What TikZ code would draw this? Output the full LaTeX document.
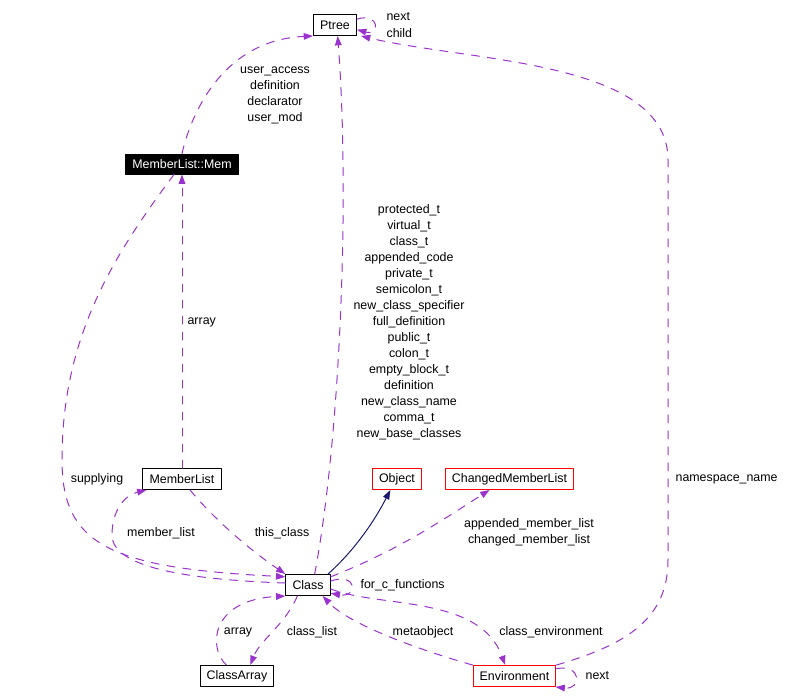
\documentclass[tikz,border=0pt]{standalone}
\usepackage{fontspec}
\setmainfont{Liberation Sans}
\usetikzlibrary{arrows.meta}
\definecolor{dorchid}{HTML}{9A32CD}
\definecolor{mnblue}{HTML}{191970}

\begin{document}
\begin{tikzpicture}[x=0.75pt,y=-0.75pt,line cap=round,line join=round,
  every node/.style={font=\fontsize{9.3}{12}\selectfont},
  cls/.style={draw,line width=0.75pt,inner xsep=5pt,inner ysep=0pt,minimum height=15.75pt},
  ext/.style={cls,draw=red},
  cur/.style={cls,fill=black,text=white,minimum height=15pt},
  lbl/.style={inner sep=1pt},
  rel/.style={draw=dorchid,line width=0.75pt,dash pattern=on 6pt off 6pt,-{Triangle[length=7pt,width=5pt]}},
  inh/.style={draw=mnblue,line width=0.75pt,-{Triangle[length=7pt,width=5pt]}}]
  \useasboundingbox (0,0) rectangle (800,700);
  % classes
  \node[cls] (ptree) at (335,25) {Ptree};
  \node[cur] (mem) at (182,164) {MemberList::Mem};
  \node[cls] (ml) at (182,479) {MemberList};
  \node[ext] (object) at (397,479) {Object};
  \node[ext] (cml) at (509.5,479) {ChangedMemberList};
  \node[cls] (class) at (308,585) {Class};
  \node[cls] (ca) at (237,676) {ClassArray};
  \node[ext] (env) at (514.5,676) {Environment};
  % Ptree
  \draw[rel] (ptree.15) .. controls (380,12) and (380,36) .. (ptree.-12);
  \node[lbl,anchor=west] (lnext) at (385,17) {next};
  \node[lbl,anchor=west] (lchild) at (385,33) {child};
  \draw[rel] (mem.north) .. controls (192,110) and (225,40) .. (ptree.south west);
  \node[lbl,align=center] (lmem) at (275,95) {user\_access\\definition\\declarator\\user\_mod};
  \draw[rel] ([xshift=5pt]class.north) .. controls (340,440) and (350,200) .. ([xshift=2pt]ptree.south);
  \node[lbl,align=center] (lcls) at (409,322) {protected\_t\\virtual\_t\\class\_t\\appended\_code\\private\_t\\semicolon\_t\\new\_class\_specifier\\full\_definition\\public\_t\\colon\_t\\empty\_block\_t\\definition\\new\_class\_name\\comma\_t\\new\_base\_classes};
  \draw[rel] (env.north east) .. controls (625,645) and (668,620) .. (668,560) -- (668,160) .. controls (668,60) and (470,62) .. ([xshift=3pt]ptree.south east);
  \node[lbl,anchor=west] (lns) at (674,479) {namespace\_name};
  % MemberList
  \draw[rel] (ml.north) -- (mem.south);
  \node[lbl,anchor=west] (larr) at (186,322) {array};
  \draw[rel] ([xshift=-6pt]mem.south) .. controls (110,260) and (62,340) .. (62,460) .. controls (62,545) and (110,568) .. (class.160);
  \node[lbl] (lsup) at (97,479) {supplying};
  \draw[rel] (class.175) .. controls (200,580) and (112,570) .. (112,535) .. controls (112,510) and (125,495) .. ([xshift=3pt]ml.south west);
  \node[lbl] (lmlist) at (161,533) {member\_list};
  \draw[rel] ([xshift=6pt]ml.south) .. controls (215,520) and (250,550) .. (class.north west);
  \node[lbl] (lthis) at (282,533) {this\_class};
  % Class
  \draw[inh] ([xshift=-2pt]class.north east) .. controls (355,550) and (375,520) .. ([xshift=-5pt]object.south);
  \draw[rel] (class.20) .. controls (400,550) and (450,515) .. ([xshift=-15pt]cml.south);
  \node[lbl,align=center] (lcml) at (529,532) {appended\_member\_list\\changed\_member\_list};
  \draw[rel] (class.10) .. controls (358,572) and (358,598) .. (class.-20);
  \node[lbl,anchor=west] (lfor) at (359,585) {for\_c\_functions};
  \draw[rel] ([xshift=-8pt]ca.north) .. controls (208,648) and (210,600) .. (class.south west);
  \node[lbl] (lcarr) at (238,632) {array};
  \draw[rel] ([xshift=-8pt]class.south) .. controls (285,625) and (260,640) .. ([xshift=10pt]ca.north);
  \node[lbl] (lclist) at (312,632) {class\_list};
  \draw[rel] (env.north west) .. controls (420,650) and (350,625) .. ([xshift=-6pt]class.south east);
  \node[lbl] (lmeta) at (423,632) {metaobject};
  \draw[rel] (class.-10) .. controls (380,608) and (480,595) .. ([xshift=-7pt]env.north);
  \node[lbl] (lcenv) at (551,632) {class\_environment};
  % Environment
  \draw[rel] (env.10) .. controls (582,664) and (582,690) .. (env.-15);
  \node[lbl,anchor=west] (lenext) at (584,676) {next};
\end{tikzpicture}
\end{document}
